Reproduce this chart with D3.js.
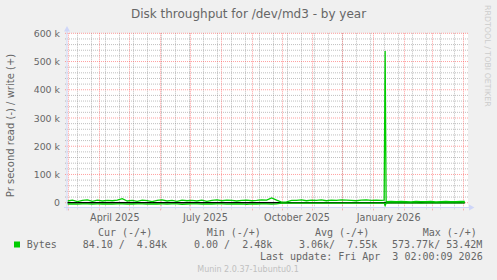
<!DOCTYPE html>
<html>
<head>
<meta charset="utf-8">
<script src="https://cdn.jsdelivr.net/npm/d3@7"></script>
<style>
  html, body { margin: 0; padding: 0; background: #f0f0f0; }
  svg { display: block; }
  .sans { font-family: "DejaVu Sans", sans-serif; }
  .mono { font-family: "DejaVu Sans Mono", monospace; white-space: pre; }
</style>
</head>
<body>
<div id="chart"></div>
<script>
// Munin "Disk throughput for /dev/md3 - by year": write (+) and read (-) in bytes/s.
const startDate = new Date(2025, 1, 28);
const endDate = new Date(2026, 3, 3);

// sample day offsets from startDate
const dayOffsets = [
  0, 5, 10, 15, 20, 25, 30, 35, 40, 45, 50, 55, 60, 65, 70, 75, 80, 85, 90, 95,
  100, 105, 110, 115, 120, 125, 130, 135, 140, 145, 150, 155, 160, 165, 170, 175, 180, 185, 190, 195,
  200, 205, 210, 215, 220, 225, 230, 235, 240, 245, 250, 255, 260, 265, 270, 275, 280, 285, 290, 295,
  300, 305, 310, 315, 318, 319, 320, 325, 330, 335, 340, 345, 350, 355, 360, 365, 370, 375, 380, 385,
  390, 395, 399
];
// write, k bytes/s
const writeK = [
  6, 9, 4, 8, 10, 5, 9, 6, 8, 7, 9, 14, 6, 8, 5, 9, 7, 4, 8, 10,
  6, 8, 5, 9, 7, 8, 6, 9, 5, 8, 10, 7, 9, 8, 6, 8, 9, 7, 8, 10,
  9, 17, 9, 2, 3, 8, 8, 10, 7, 9, 8, 10, 7, 9, 8, 10, 9, 8, 7, 9,
  10, 8, 9, 8, 9, 537, 4, 5, 4, 5, 4, 3, 5, 4, 4, 5, 3, 4, 5, 4,
  4, 5, 4.84
];
// read, k bytes/s (drawn below zero)
const readK = [
  4.6, 4.4, 4.8, 4.5, 4.3, 4.7, 4.5, 4.6, 4.2, 4.8, 4.5, 4.4, 4.7, 4.6, 4.3, 4.5, 4.8, 4.4, 4.6, 4.5,
  4.7, 4.3, 4.5, 6.2, 4.6, 4.4, 4.5, 4.7, 4.3, 4.6, 4.5, 4.4, 4.8, 4.5, 4.6, 4.3, 6.0, 4.5, 4.6, 4.4,
  4.5, 4.7, 4.4, 1.5, 1.6, 1.4, 1.5, 1.7, 1.4, 1.5, 1.6, 1.5, 1.4, 1.6, 1.5, 1.5, 1.4, 1.6, 1.5, 1.5,
  1.4, 1.6, 1.5, 1.5, 1.4, 10, 1.0, 0.3, 0.4, 0.3, 0.3, 0.4, 0.3, 1.6, 0.3, 0.3, 0.4, 0.3, 0.3, 0.3,
  0.3, 0.3, 0.084
];

const yTicks = [0, 100000, 200000, 300000, 400000, 500000, 600000];
const monthLabels = [new Date(2025, 3, 1), new Date(2025, 6, 1), new Date(2025, 9, 1), new Date(2026, 0, 1)];

const legendHeaders = ["Cur (-/+)", "Min (-/+)", "Avg (-/+)", "Max (-/+)"];
const legendValues = ["84.10 /  4.84k", "0.00 /  2.48k", "3.06k/  7.55k", "573.77k/ 53.42M"];
const seriesName = "Bytes";
const lastUpdate = "Last update: Fri Apr  3 02:00:09 2026";

const W = 497, H = 280;
const C = { left: 67, right: 468, top: 33.3, bottom: 207.5 };
const GREEN = "#00cc00";
const FONT = "#666666";

const x = d3.scaleTime().domain([startDate, endDate]).range([67.5, 464.8]);
const y = d3.scaleLinear().domain([-17000, 600000]).range([C.bottom, C.top]);

const svg = d3.select("#chart").append("svg").attr("width", W).attr("height", H);
svg.append("rect").attr("width", W).attr("height", H).attr("fill", "#f0f0f0");
svg.append("rect").attr("x", C.left).attr("y", C.top)
  .attr("width", C.right - C.left).attr("height", C.bottom - C.top).attr("fill", "#ffffff");

// minor grid
const minorY = d3.range(-0, 600001, 20000).filter((v) => v % 100000 !== 0);
svg.append("g").selectAll("line").data(minorY).join("line")
  .attr("x1", C.left - 2).attr("x2", C.right).attr("y1", (d) => y(d)).attr("y2", (d) => y(d))
  .attr("stroke", "rgba(130,130,130,0.5)").attr("stroke-dasharray", "1,1");
const minorX = d3.timeMonday.range(new Date(2025, 2, 10), endDate).filter((d, i) => i % 2 === 0);
svg.append("g").selectAll("line").data(minorX).join("line")
  .attr("x1", (d) => Math.round(x(d)) + 0.5).attr("x2", (d) => Math.round(x(d)) + 0.5)
  .attr("y1", C.top).attr("y2", C.bottom + 2)
  .attr("stroke", "rgba(130,130,130,0.5)").attr("stroke-dasharray", "1,1");

// major grid
svg.append("g").selectAll("line").data(yTicks).join("line")
  .attr("x1", C.left - 2).attr("x2", C.right).attr("y1", (d) => y(d)).attr("y2", (d) => y(d))
  .attr("stroke", "rgba(255,80,80,0.55)").attr("stroke-dasharray", "1,1");
const majorX = d3.timeMonth.range(new Date(2025, 2, 1), endDate);
svg.append("g").selectAll("line").data(majorX).join("line")
  .attr("x1", (d) => Math.round(x(d)) + 0.5).attr("x2", (d) => Math.round(x(d)) + 0.5)
  .attr("y1", C.top).attr("y2", C.bottom + 3)
  .attr("stroke", "rgba(255,80,80,0.55)").attr("stroke-dasharray", "1,1");

// data
const dates = dayOffsets.map((d) => d3.timeDay.offset(startDate, d));
const idx = dates.map((_, i) => i);
const writeLine = d3.line().x((i) => x(dates[i])).y((i) => y(writeK[i] * 1000));
const readLine = d3.line().x((i) => x(dates[i])).y((i) => y(-readK[i] * 1000));

svg.append("line").attr("x1", C.left).attr("x2", x(endDate))
  .attr("y1", y(0)).attr("y2", y(0)).attr("stroke", "#000").attr("stroke-width", 1.4);
svg.append("path").datum(idx).attr("d", readLine)
  .attr("fill", "none").attr("stroke", GREEN).attr("stroke-width", 1.3);
svg.append("path").datum(idx).attr("d", writeLine)
  .attr("fill", "none").attr("stroke", GREEN).attr("stroke-width", 1.3);

// axes lines + arrows
const AX = "#cfd6f8";
svg.append("line").attr("x1", C.left - 3).attr("x2", 470).attr("y1", C.bottom).attr("y2", C.bottom)
  .attr("stroke", AX).attr("stroke-width", 1);
svg.append("path").attr("d", `M469,${C.bottom - 3}L474.5,${C.bottom}L469,${C.bottom + 3}Z`).attr("fill", AX);
svg.append("line").attr("x1", C.left).attr("x2", C.left).attr("y1", C.bottom + 3).attr("y2", 30)
  .attr("stroke", AX).attr("stroke-width", 1);
svg.append("path").attr("d", `M${C.left - 3},31.5L${C.left},26L${C.left + 3},31.5Z`).attr("fill", AX);

// tick labels
const yAxis = svg.append("g").attr("transform", `translate(${C.left - 7},0)`)
  .call(d3.axisLeft(y).tickValues(yTicks).tickSize(0)
    .tickFormat((d) => (d === 0 ? "0" : `${d / 1000} k`)));
yAxis.select(".domain").remove();
yAxis.selectAll("text").attr("class", "sans").attr("font-size", 9.4).attr("fill", FONT).attr("dy", "0.34em").attr("x", 0);

const midMonth = monthLabels.map((d) => d3.timeDay.offset(d, 15));
const xAxis = svg.append("g").attr("transform", `translate(0,${C.bottom})`)
  .call(d3.axisBottom(x).tickValues(midMonth).tickSize(0).tickFormat(d3.timeFormat("%B %Y")));
xAxis.select(".domain").remove();
xAxis.selectAll("text").attr("class", "sans").attr("font-size", 9.6).attr("fill", FONT).attr("y", 13.5).attr("dy", 0);

// titles
svg.append("text").attr("class", "sans").attr("x", 248.5).attr("y", 18).attr("text-anchor", "middle")
  .attr("font-size", 12).attr("fill", FONT).text("Disk throughput for /dev/md3 - by year");
svg.append("text").attr("class", "sans").attr("font-size", 10).attr("fill", FONT).attr("text-anchor", "middle")
  .attr("transform", "translate(13.5,125.5) rotate(-90)").text("Pr second read (-) / write (+)");
svg.append("text").attr("class", "sans").attr("font-size", 7.9).attr("fill", "#cccccc")
  .attr("transform", "translate(485,5) rotate(90)").text("RRDTOOL / TOBI OETIKER");

// legend
const headX = [98, 206.7, 315, 422.7];
const valX = [82.7, 194, 299, 392];
svg.append("g").selectAll("text").data(legendHeaders).join("text")
  .attr("class", "mono").attr("font-size", 10).attr("fill", FONT)
  .attr("x", (d, i) => headX[i]).attr("y", 236).text((d) => d);
svg.append("rect").attr("x", 14).attr("y", 241.5).attr("width", 6).attr("height", 6).attr("fill", GREEN);
svg.append("text").attr("class", "mono").attr("font-size", 10).attr("fill", FONT)
  .attr("x", 26.7).attr("y", 248).text(seriesName);
svg.append("g").selectAll("text").data(legendValues).join("text")
  .attr("class", "mono").attr("font-size", 10).attr("fill", FONT)
  .attr("x", (d, i) => valX[i]).attr("y", 248).text((d) => d);
svg.append("text").attr("class", "mono").attr("font-size", 10).attr("fill", FONT)
  .attr("x", 482.7).attr("y", 259.5).attr("text-anchor", "end").text(lastUpdate);
svg.append("text").attr("class", "sans").attr("font-size", 8).attr("fill", "#c0c0c0")
  .attr("x", 248).attr("y", 272).attr("text-anchor", "middle").text("Munin 2.0.37-1ubuntu0.1");
</script>
</body>
</html>
